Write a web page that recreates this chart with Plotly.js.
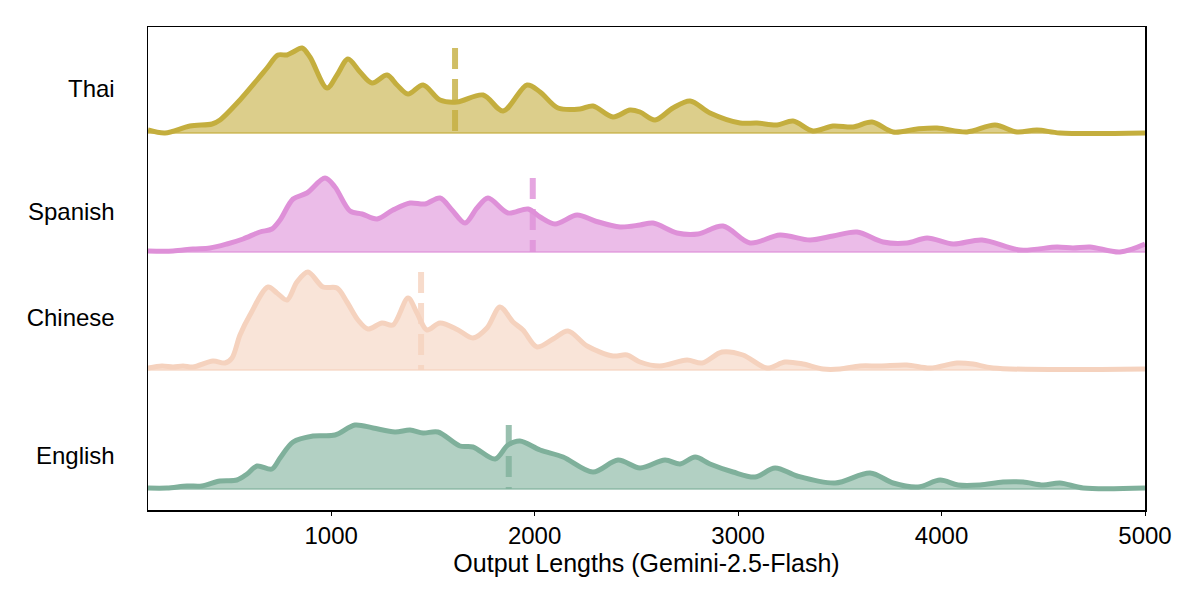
<!DOCTYPE html>
<html>
<head>
<meta charset="utf-8">
<script src="https://cdn.plot.ly/plotly-3.0.1.min.js"></script>
<style>html,body{margin:0;padding:0;background:#fff;}#chart{width:1200px;height:600px;}</style>
</head>
<body>
<div id="chart"></div>
<script>
// Languages (top to bottom)
const languages = ["Thai", "Spanish", "Chinese", "English"];

// Density curves (scaled), sampled at output lengths
const thaiX = [100,184,306,415,454,552,636,685,739,783,813,857,896,980,1029,1083,1142,1201,1275,1324,1378,1452,1535,1619,1747,1845,1963,2027,2115,2223,2287,2385,2469,2518,2592,2680,2764,2862,3010,3093,3192,3270,3368,3467,3565,3658,3762,3880,3978,4125,4263,4371,4469,4582,5000];
const thaiY = [3,0,7,9,13,33,53,65,78,78,81,85,76,45,58,74,61,50,58,48,39,48,33,31,38,22,48,41,25,24,27,16,23,21,13,25,32,20,10,10,8,12,2,7,6,11,1,4,5,1,8,1,3,0,0];

const spanishX = [100,223,321,405,488,567,650,709,749,813,881,970,1019,1093,1152,1226,1304,1388,1461,1535,1594,1658,1717,1771,1869,1968,2027,2100,2209,2297,2420,2518,2582,2700,2803,2926,3059,3206,3354,3467,3585,3713,3830,3929,4057,4199,4386,4568,4646,4730,4877,5000];
const spanishY = [1,1,3,4,8,13,20,23,32,53,59,74,65,41,38,33,42,49,48,54,42,29,44,54,39,43,35,28,37,31,25,27,29,19,18,26,9,17,12,16,20,10,9,14,8,12,2,5,4,5,0,8];

const chineseX = [100,169,223,272,321,419,478,513,552,601,690,734,783,832,886,960,1029,1078,1132,1181,1250,1304,1378,1422,1471,1535,1624,1697,1766,1830,1894,1943,2012,2091,2164,2258,2385,2454,2518,2616,2749,2823,2921,3024,3142,3231,3319,3418,3501,3599,3698,3830,3944,4076,4155,4253,5000];
const chineseY = [2,4,3,4,3,9,7,12,35,55,83,77,70,88,98,83,82,68,50,41,47,45,72,57,40,47,40,32,42,63,48,40,23,31,39,24,14,15,8,4,10,7,18,15,2,8,6,1,1,4,4,5,2,7,6,2,1];

const englishX = [100,193,292,365,454,537,587,636,709,749,813,911,1019,1117,1206,1314,1388,1452,1525,1633,1697,1806,1869,1928,2027,2140,2287,2410,2518,2641,2715,2789,2862,2975,3083,3182,3290,3477,3649,3762,3885,3993,4081,4189,4302,4401,4499,4582,4696,5000];
const englishY = [1,1,3,3,8,9,15,23,20,31,47,53,54,64,61,57,59,56,57,43,42,30,44,48,39,32,17,29,21,29,25,32,25,17,12,21,13,6,16,6,2,9,4,4,7,7,4,6,1,1];

// Median output lengths (dashed markers)
const medians = [1609, 1991, 1442, 1873];

// Tick labels on x axis
const xTicks = [1000, 2000, 3000, 4000, 5000];

// Styling (not data)
const seriesX = [thaiX, spanishX, chineseX, englishX];
const seriesY = [thaiY, spanishY, chineseY, englishY];
const offsets = [377, 258, 140, 21];
const labelPos = [421, 298, 192, 54];
const lineColors = ["#c4ae3e", "#de90d8", "#f5d2be", "#7fb09b"];
const fillColors = ["rgba(196,174,62,0.6)", "rgba(222,144,216,0.6)", "rgba(245,210,190,0.6)", "rgba(127,176,155,0.6)"];
const dashColors = ["rgba(196,174,62,0.8)", "rgba(222,144,216,0.8)", "rgba(245,210,190,0.8)", "rgba(127,176,155,0.8)"];

const traces = [];
languages.forEach((lang, i) => {
  const xs = seriesX[i];
  const off = offsets[i];
  traces.push({
    x: [xs[0], xs[xs.length - 1]], y: [off, off],
    mode: "lines", line: {color: fillColors[i], width: 2},
    hoverinfo: "skip", showlegend: false
  });
  traces.push({
    x: xs, y: seriesY[i].map(v => v + off),
    mode: "lines", line: {color: lineColors[i], width: 5, shape: "spline", smoothing: 0.9},
    fill: "tonexty", fillcolor: fillColors[i],
    name: lang, showlegend: false
  });
  const peak = Math.max(...seriesY[i]);
  traces.push({
    x: [medians[i], medians[i]], y: [off + peak, off],
    mode: "lines", line: {color: dashColors[i], width: 6, dash: "21px,10px"},
    hoverinfo: "skip", showlegend: false
  });
});

const font = {family: "Liberation Sans, Arial, sans-serif", size: 24, color: "#000"};
const titleFont = {family: "Liberation Sans, Arial, sans-serif", size: 25, color: "#000"};

const layout = {
  width: 1200, height: 600,
  margin: {l: 148, r: 55, t: 27, b: 90},
  paper_bgcolor: "#fff", plot_bgcolor: "#fff",
  font: font,
  showlegend: false,
  xaxis: {
    range: [100, 5000],
    tickvals: xTicks,
    ticktext: xTicks.map(String),
    ticks: "outside", ticklen: 4, tickwidth: 1, tickcolor: "#000",
    showline: true, mirror: true, linecolor: "#000", linewidth: 1.5,
    showgrid: false, zeroline: false,
    tickfont: font,
    title: {text: "Output Lengths (Gemini-2.5-Flash)", font: titleFont, standoff: 4}
  },
  yaxis: {
    range: [0, 483],
    tickvals: labelPos,
    ticktext: languages,
    ticks: "", ticklabelstandoff: 27,
    showline: true, mirror: true, linecolor: "#000", linewidth: 1.5,
    showgrid: false, zeroline: false,
    tickfont: font
  }
};

Plotly.newPlot("chart", traces, layout, {displayModeBar: false, staticPlot: true});
</script>
</body>
</html>
